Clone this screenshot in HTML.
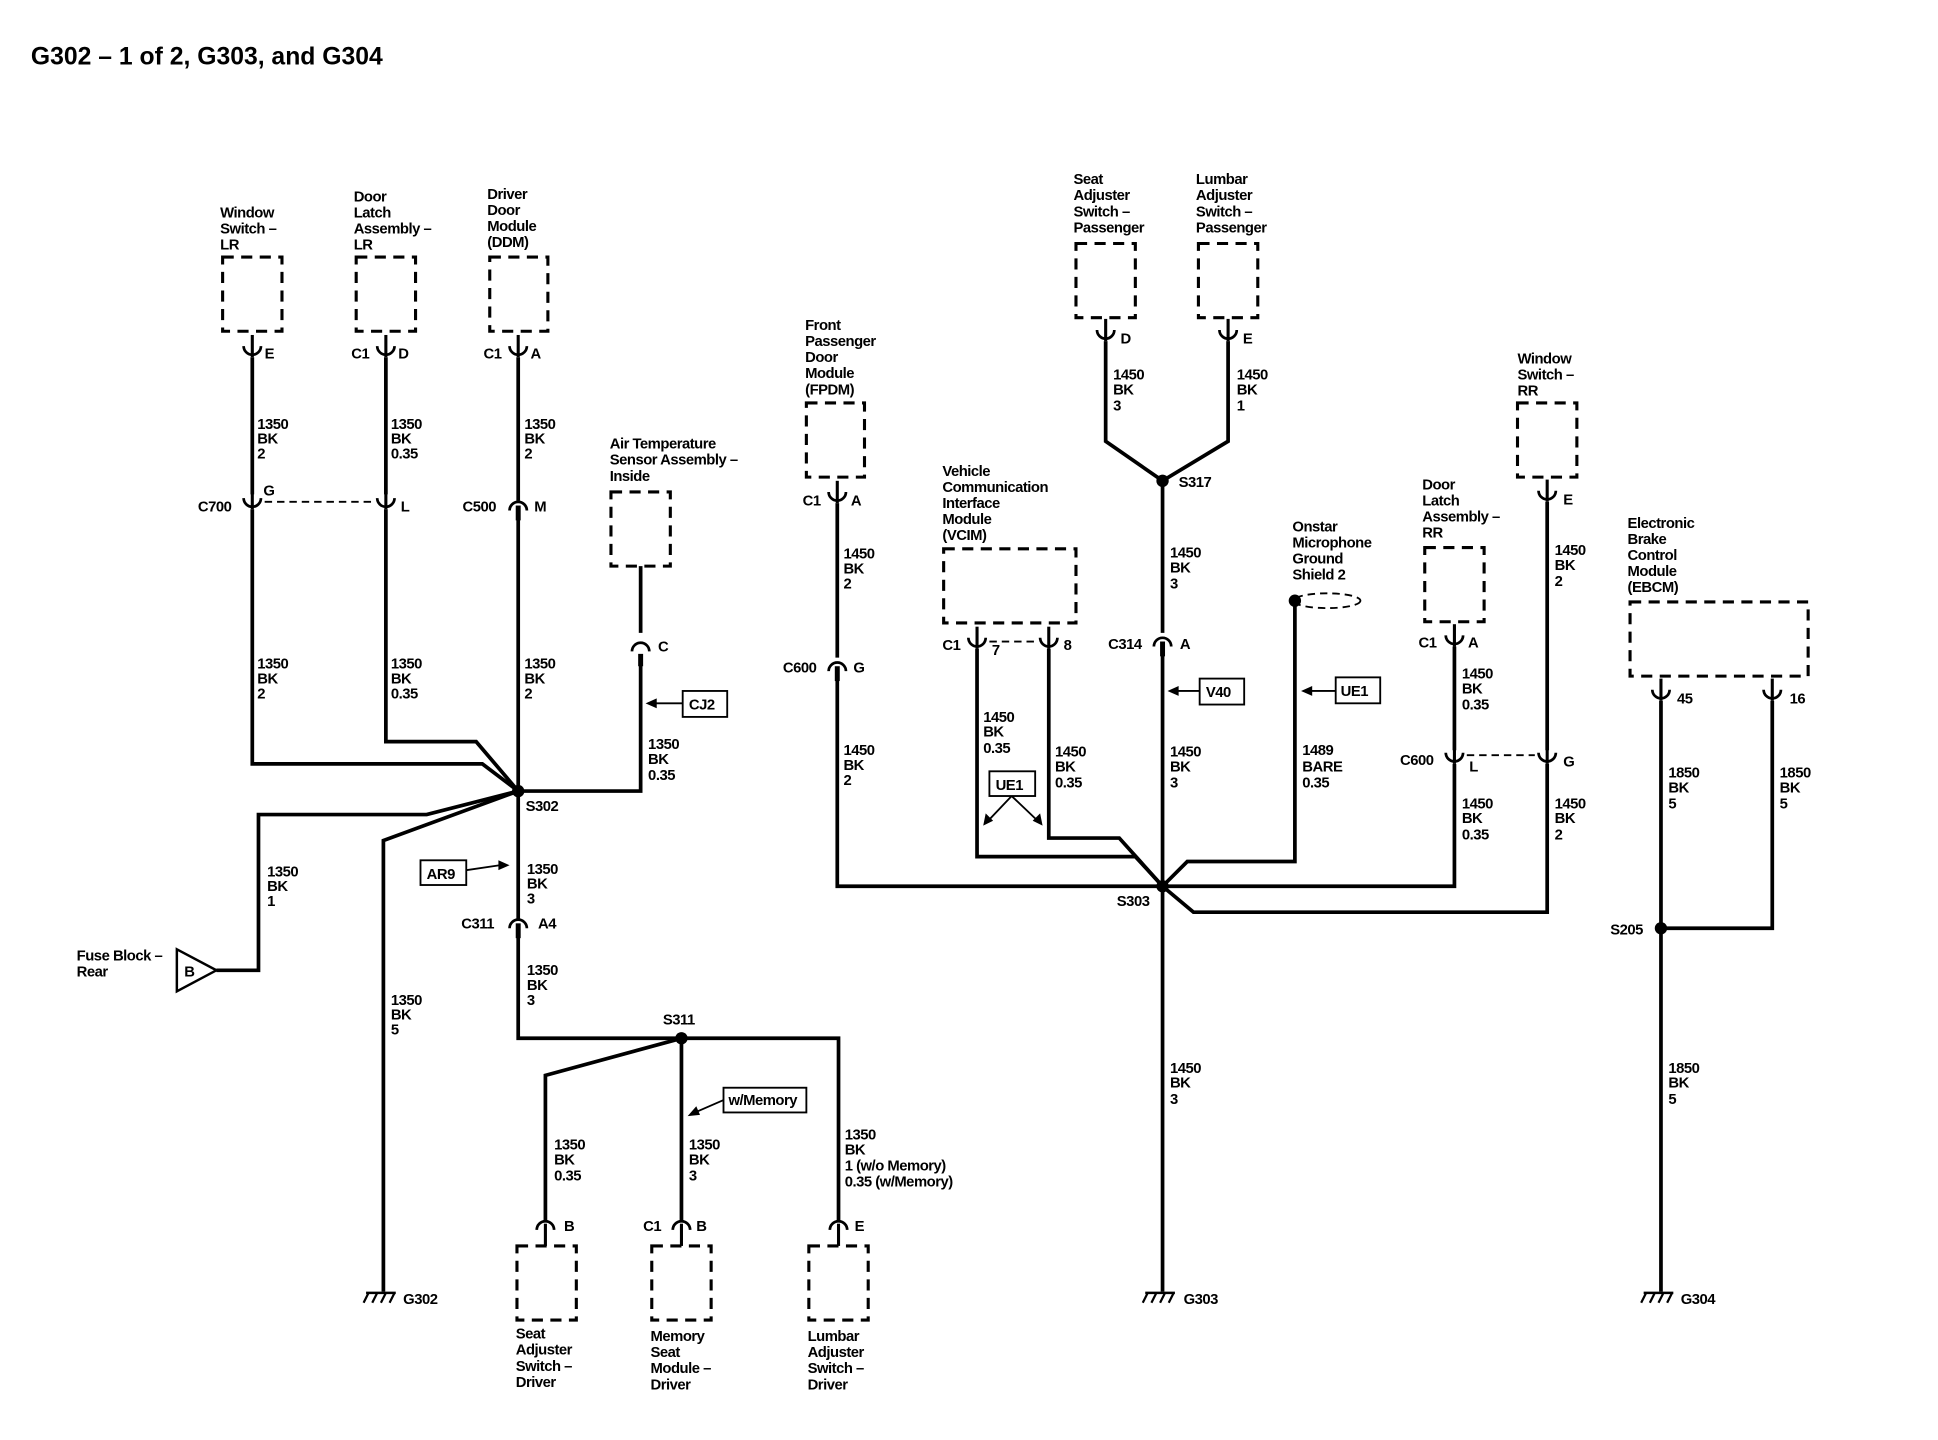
<!DOCTYPE html>
<html><head><meta charset="utf-8"><style>
html,body{margin:0;padding:0;background:#fff;}
svg{display:block}
text{font-family:"Liberation Sans",sans-serif;font-size:12px;font-weight:bold;fill:#000;letter-spacing:-0.4px}
.w{stroke:#000;stroke-width:3;fill:none}
.b{stroke:#000;stroke-width:2.5;fill:none;stroke-dasharray:9,6}
.d{stroke:#000;stroke-width:1.5;fill:none;stroke-dasharray:6,4}
.t{stroke:#000;stroke-width:1.5;fill:#fff}
</style></head><body>
<svg width="1938" height="1440" viewBox="0 0 1567 1165" preserveAspectRatio="none" xmlns="http://www.w3.org/2000/svg">
<defs>
<g id="m"><path d="M-7,-5 A7,7 0 0,0 7,-5" fill="none" stroke="#000" stroke-width="2.2"/><line x1="0" y1="-14" x2="0" y2="4" stroke="#000" stroke-width="2.5"/></g>
<g id="f"><path d="M-7,3 A7,7 0 0,1 7,3" fill="none" stroke="#000" stroke-width="2.2"/><rect x="-2" y="-1" width="4" height="12" fill="#000"/></g>
<g id="g"><line x1="-14" y1="0" x2="10" y2="0" stroke="#000" stroke-width="2"/><path d="M-12,0 l-4,8 M-5,0 l-4,8 M2,0 l-4,8 M9,0 l-4,8" stroke="#000" stroke-width="1.8"/></g>
</defs>
<text x="25" y="52" style="font-size:20px;letter-spacing:0">G302 – 1 of 2, G303, and G304</text>

<!-- LEFT -->
<rect class="b" x="180" y="208" width="48" height="60"/>
<text x="178" y="176">Window</text><text x="178" y="189">Switch –</text><text x="178" y="202">LR</text>
<use href="#m" x="204" y="285"/><text x="214" y="290">E</text>
<rect class="b" x="288" y="208" width="48" height="60"/>
<text x="286" y="163">Door</text><text x="286" y="176">Latch</text><text x="286" y="189">Assembly –</text><text x="286" y="202">LR</text>
<use href="#m" x="312" y="285"/><text x="284" y="290">C1</text><text x="322" y="290">D</text>
<rect class="b" x="396" y="208" width="47" height="60"/>
<text x="394" y="161">Driver</text><text x="394" y="174">Door</text><text x="394" y="187">Module</text><text x="394" y="200">(DDM)</text>
<use href="#m" x="419" y="285"/><text x="391" y="290">C1</text><text x="429" y="290">A</text>

<path class="w" d="M204,289 V400"/><path class="w" d="M312,289 V400"/><path class="w" d="M419,289 V405"/>
<text x="208" y="347">1350</text><text x="208" y="359">BK</text><text x="208" y="371">2</text>
<text x="316" y="347">1350</text><text x="316" y="359">BK</text><text x="316" y="371">0.35</text>
<text x="424" y="347">1350</text><text x="424" y="359">BK</text><text x="424" y="371">2</text>

<use href="#m" x="204" y="408"/><text x="160" y="414">C700</text><text x="213" y="401">G</text>
<use href="#m" x="312" y="408"/><text x="324" y="414">L</text>
<line class="d" x1="214" y1="406" x2="302" y2="406"/>
<use href="#f" x="419" y="410"/><text x="374" y="414">C500</text><text x="432" y="414">M</text>

<path class="w" d="M204,412 V618 H390 L419,640"/>
<path class="w" d="M312,412 V600 H385 L419,640"/>
<path class="w" d="M419,420 V745"/>
<text x="208" y="541">1350</text><text x="208" y="553">BK</text><text x="208" y="565">2</text>
<text x="316" y="541">1350</text><text x="316" y="553">BK</text><text x="316" y="565">0.35</text>
<text x="424" y="541">1350</text><text x="424" y="553">BK</text><text x="424" y="565">2</text>

<rect class="b" x="494" y="398" width="48" height="60"/>
<text x="493" y="363">Air Temperature</text><text x="493" y="376">Sensor Assembly –</text><text x="493" y="389">Inside</text>
<path class="w" d="M518,458 V512"/>
<path d="M511,527 A7,7 0 0,1 525,527" fill="none" stroke="#000" stroke-width="2.2"/>
<text x="532" y="527">C</text>
<rect x="516" y="529" width="4" height="10" fill="#000"/>
<path class="w" d="M518,538 V640 H419"/>
<rect class="t" x="552" y="559" width="36" height="21"/><text x="557" y="574">CJ2</text>
<path d="M552,569 H524" stroke="#000" stroke-width="1.5"/><path d="M522,569 l9,-4 v8z" fill="#000"/>
<text x="524" y="606">1350</text><text x="524" y="618">BK</text><text x="524" y="631">0.35</text>

<circle cx="419" cy="640" r="5" fill="#000"/><text x="425" y="656">S302</text>
<path class="w" d="M419,640 L345,659 H209 V785 H175"/>
<path class="w" d="M419,640 L310,680 V1045"/>
<text x="216" y="709">1350</text><text x="216" y="721">BK</text><text x="216" y="733">1</text>
<path d="M143,768 L175,785 L143,802 Z" fill="#fff" stroke="#000" stroke-width="2"/><text x="149" y="790">B</text>
<text x="62" y="777">Fuse Block –</text><text x="62" y="790">Rear</text>
<text x="316" y="813">1350</text><text x="316" y="825">BK</text><text x="316" y="837">5</text>
<use href="#g" x="310" y="1046"/><text x="326" y="1055">G302</text>

<rect class="t" x="340" y="696" width="37" height="20"/><text x="345" y="711">AR9</text>
<path d="M377,704 L404,700" stroke="#000" stroke-width="1.5"/><path d="M412,700 l-9,-4 v8z" fill="#000"/>
<text x="426" y="707">1350</text><text x="426" y="719">BK</text><text x="426" y="731">3</text>
<use href="#f" x="419" y="748"/><text x="373" y="751">C311</text><text x="435" y="751">A4</text>
<path class="w" d="M419,758 V840 H551"/>
<text x="426" y="789">1350</text><text x="426" y="801">BK</text><text x="426" y="813">3</text>
<circle cx="551" cy="840" r="5" fill="#000"/><text x="536" y="829">S311</text>
<path class="w" d="M551,840 L441,870 V987"/>
<path class="w" d="M551,840 V987"/>
<path class="w" d="M551,840 H678 V987"/>
<rect class="t" x="585" y="880" width="67" height="20"/><text x="589" y="894">w/Memory</text>
<path d="M585,890 L562,900" stroke="#000" stroke-width="1.5"/><path d="M556,903 l7,-8 l3,7z" fill="#000"/>
<text x="448" y="930">1350</text><text x="448" y="942">BK</text><text x="448" y="955">0.35</text>
<text x="557" y="930">1350</text><text x="557" y="942">BK</text><text x="557" y="955">3</text>
<text x="683" y="922">1350</text><text x="683" y="934">BK</text><text x="683" y="947">1 (w/o Memory)</text><text x="683" y="960">0.35 (w/Memory)</text>
<path d="M434,995 A7,7 0 0,1 448,995" fill="none" stroke="#000" stroke-width="2.2"/><line x1="441" y1="990" x2="441" y2="1008" stroke="#000" stroke-width="2.5"/><text x="456" y="996">B</text>
<path d="M544,995 A7,7 0 0,1 558,995" fill="none" stroke="#000" stroke-width="2.2"/><line x1="551" y1="990" x2="551" y2="1008" stroke="#000" stroke-width="2.5"/><text x="520" y="996">C1</text><text x="563" y="996">B</text>
<path d="M671,995 A7,7 0 0,1 685,995" fill="none" stroke="#000" stroke-width="2.2"/><line x1="678" y1="990" x2="678" y2="1008" stroke="#000" stroke-width="2.5"/><text x="691" y="996">E</text>
<rect class="b" x="418" y="1008" width="48" height="60"/>
<rect class="b" x="527" y="1008" width="48" height="60"/>
<rect class="b" x="654" y="1008" width="48" height="60"/>
<text x="417" y="1083">Seat</text><text x="417" y="1096">Adjuster</text><text x="417" y="1109">Switch –</text><text x="417" y="1122">Driver</text>
<text x="526" y="1085">Memory</text><text x="526" y="1098">Seat</text><text x="526" y="1111">Module –</text><text x="526" y="1124">Driver</text>
<text x="653" y="1085">Lumbar</text><text x="653" y="1098">Adjuster</text><text x="653" y="1111">Switch –</text><text x="653" y="1124">Driver</text>

<!-- MIDDLE -->
<rect class="b" x="652" y="326" width="47" height="60"/>
<text x="651" y="267">Front</text><text x="651" y="280">Passenger</text><text x="651" y="293">Door</text><text x="651" y="306">Module</text><text x="651" y="319">(FPDM)</text>
<use href="#m" x="677" y="403"/><text x="649" y="409">C1</text><text x="688" y="409">A</text>
<path class="w" d="M677,407 V532"/>
<text x="682" y="452">1450</text><text x="682" y="464">BK</text><text x="682" y="476">2</text>
<use href="#f" x="677" y="540"/><text x="633" y="544">C600</text><text x="690" y="544">G</text>
<path class="w" d="M677,550 V717 H940"/>
<text x="682" y="611">1450</text><text x="682" y="623">BK</text><text x="682" y="635">2</text>

<rect class="b" x="763" y="444" width="107" height="60"/>
<text x="762" y="385">Vehicle</text><text x="762" y="398">Communication</text><text x="762" y="411">Interface</text><text x="762" y="424">Module</text><text x="762" y="437">(VCIM)</text>
<use href="#m" x="790" y="521"/><text x="762" y="526">C1</text><text x="802" y="530">7</text>
<use href="#m" x="848" y="521"/><text x="860" y="526">8</text>
<line class="d" x1="800" y1="519" x2="838" y2="519"/>
<path class="w" d="M790,525 V693 H918 L940,717"/>
<path class="w" d="M848,525 V678 H905 L940,717"/>
<text x="795" y="584">1450</text><text x="795" y="596">BK</text><text x="795" y="609">0.35</text>
<text x="853" y="612">1450</text><text x="853" y="624">BK</text><text x="853" y="637">0.35</text>
<rect class="t" x="800" y="624" width="37" height="20"/><text x="805" y="639">UE1</text>
<path d="M818,644 L799,664 M818,644 L839,664" stroke="#000" stroke-width="1.5"/>
<path d="M795,668 l2,-10 l6,6z M843,668 l-2,-10 l-6,6z" fill="#000"/>

<rect class="b" x="870" y="197" width="48" height="60"/>
<text x="868" y="149">Seat</text><text x="868" y="162">Adjuster</text><text x="868" y="175">Switch –</text><text x="868" y="188">Passenger</text>
<rect class="b" x="969" y="197" width="48" height="60"/>
<text x="967" y="149">Lumbar</text><text x="967" y="162">Adjuster</text><text x="967" y="175">Switch –</text><text x="967" y="188">Passenger</text>
<use href="#m" x="894" y="272"/><text x="906" y="278">D</text>
<use href="#m" x="993" y="272"/><text x="1005" y="278">E</text>
<path class="w" d="M894,276 V357 L940,389 L993,357 V276"/>
<text x="900" y="307">1450</text><text x="900" y="319">BK</text><text x="900" y="332">3</text>
<text x="1000" y="307">1450</text><text x="1000" y="319">BK</text><text x="1000" y="332">1</text>
<circle cx="940" cy="389" r="5" fill="#000"/><text x="953" y="394">S317</text>
<path class="w" d="M940,389 V512"/>
<text x="946" y="451">1450</text><text x="946" y="463">BK</text><text x="946" y="476">3</text>
<use href="#f" x="940" y="520"/><text x="896" y="525">C314</text><text x="954" y="525">A</text>
<path class="w" d="M940,530 V1045"/>
<rect class="t" x="970" y="549" width="36" height="21"/><text x="975" y="564">V40</text>
<path d="M970,559 H950" stroke="#000" stroke-width="1.5"/><path d="M944,559 l9,-4 v8z" fill="#000"/>
<text x="946" y="612">1450</text><text x="946" y="624">BK</text><text x="946" y="637">3</text>
<circle cx="940" cy="717" r="5" fill="#000"/><text x="903" y="733">S303</text>
<text x="946" y="868">1450</text><text x="946" y="880">BK</text><text x="946" y="893">3</text>
<use href="#g" x="940" y="1046"/><text x="957" y="1055">G303</text>

<text x="1045" y="430">Onstar</text><text x="1045" y="443">Microphone</text><text x="1045" y="456">Ground</text><text x="1045" y="469">Shield 2</text>
<ellipse cx="1073" cy="486" rx="27" ry="6" class="d"/>
<circle cx="1047" cy="486" r="5" fill="#000"/>
<path class="w" d="M1047,486 V697 H960 L940,717"/>
<rect class="t" x="1080" y="548" width="36" height="21"/><text x="1084" y="563">UE1</text>
<path d="M1080,559 H1058" stroke="#000" stroke-width="1.5"/><path d="M1052,559 l9,-4 v8z" fill="#000"/>
<text x="1053" y="611">1489</text><text x="1053" y="624">BARE</text><text x="1053" y="637">0.35</text>

<rect class="b" x="1152" y="443" width="48" height="60"/>
<text x="1150" y="396">Door</text><text x="1150" y="409">Latch</text><text x="1150" y="422">Assembly –</text><text x="1150" y="435">RR</text>
<use href="#m" x="1176" y="519"/><text x="1147" y="524">C1</text><text x="1187" y="524">A</text>
<path class="w" d="M1176,523 V607"/>
<text x="1182" y="549">1450</text><text x="1182" y="561">BK</text><text x="1182" y="574">0.35</text>
<use href="#m" x="1176" y="614"/><text x="1132" y="619">C600</text><text x="1188" y="624">L</text>
<path class="w" d="M1176,618 V717 H940"/>
<text x="1182" y="654">1450</text><text x="1182" y="666">BK</text><text x="1182" y="679">0.35</text>

<rect class="b" x="1227" y="326" width="48" height="60"/>
<text x="1227" y="294">Window</text><text x="1227" y="307">Switch –</text><text x="1227" y="320">RR</text>
<use href="#m" x="1251" y="402"/><text x="1264" y="408">E</text>
<path class="w" d="M1251,406 V607"/>
<text x="1257" y="449">1450</text><text x="1257" y="461">BK</text><text x="1257" y="474">2</text>
<use href="#m" x="1251" y="614"/><text x="1264" y="620">G</text>
<line class="d" x1="1186" y1="611" x2="1241" y2="611"/>
<path class="w" d="M1251,618 V738 H965 L940,717"/>
<text x="1257" y="654">1450</text><text x="1257" y="666">BK</text><text x="1257" y="679">2</text>

<!-- RIGHT -->
<rect class="b" x="1318" y="487" width="144" height="60"/>
<text x="1316" y="427">Electronic</text><text x="1316" y="440">Brake</text><text x="1316" y="453">Control</text><text x="1316" y="466">Module</text><text x="1316" y="479">(EBCM)</text>
<use href="#m" x="1343" y="563"/><text x="1356" y="569">45</text>
<use href="#m" x="1433" y="563"/><text x="1447" y="569">16</text>
<path class="w" d="M1343,567 V1045"/>
<path class="w" d="M1433,567 V751 H1343"/>
<text x="1349" y="629">1850</text><text x="1349" y="641">BK</text><text x="1349" y="654">5</text>
<text x="1439" y="629">1850</text><text x="1439" y="641">BK</text><text x="1439" y="654">5</text>
<circle cx="1343" cy="751" r="5" fill="#000"/><text x="1302" y="756">S205</text>
<text x="1349" y="868">1850</text><text x="1349" y="880">BK</text><text x="1349" y="893">5</text>
<use href="#g" x="1343" y="1046"/><text x="1359" y="1055">G304</text>
</svg>
</body></html>
